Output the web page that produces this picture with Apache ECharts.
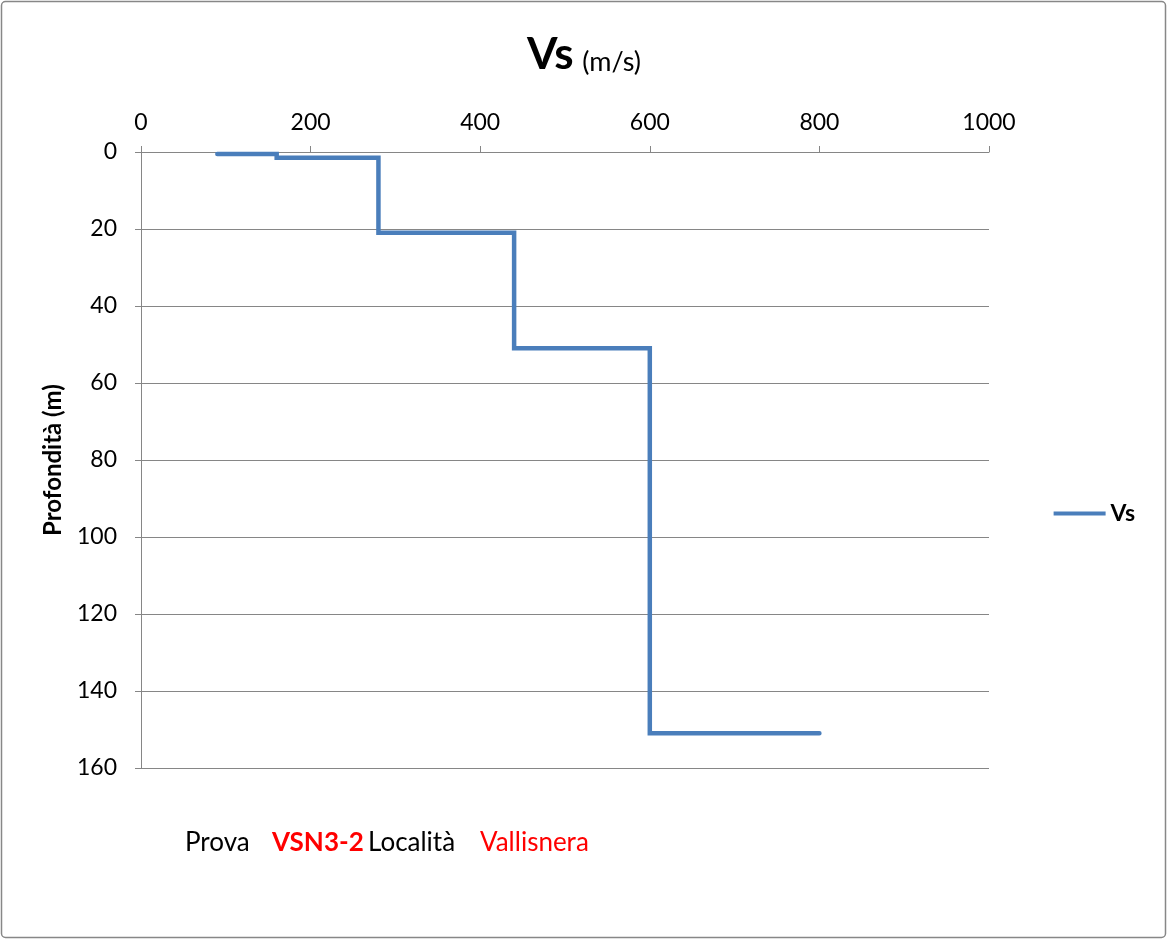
<!DOCTYPE html>
<html>
<head>
<meta charset="utf-8">
<script src="https://cdn.jsdelivr.net/npm/echarts@6/dist/echarts.min.js"></script>
<style>
html,body{margin:0;padding:0;background:#fff;}
#chart{width:1168px;height:940px;}
</style>
</head>
<body>
<div id="chart"></div>
<script>
// Polyline vertices of the Vs profile (velocity m/s, depth m)
const vsValues = [90, 160, 160, 280, 280, 440, 440, 600, 600, 800];
const depthValues = [0.5, 0.5, 1.5, 1.5, 21, 21, 51, 51, 151, 151];
const xTicks = [0, 200, 400, 600, 800, 1000];
const yTicks = [0, 20, 40, 60, 80, 100, 120, 140, 160];
const seriesName = 'Vs';
const testId = 'VSN3-2';
const siteName = 'Vallisnera';

const FONT = 'Lato, "Open Sans", sans-serif';
const chart = echarts.init(document.getElementById('chart'));
const points = vsValues.map((v, i) => [v, depthValues[i]]);

chart.setOption({
  animation: false,
  backgroundColor: '#fff',
  textStyle: { fontFamily: FONT },
  title: [{
    text: '{a|Vs}  {b|(m/s)}',
    left: 'center',
    top: 28,
    textStyle: {
      rich: {
        a: { fontSize: 44, fontWeight: 'bold', color: '#000', fontFamily: FONT },
        b: { fontSize: 27, fontWeight: 'normal', color: '#000', fontFamily: FONT, padding: [14, 0, 0, 0] }
      }
    }
  }],
  legend: {
    right: 28,
    top: 497,
    orient: 'vertical',
    itemWidth: 52,
    itemHeight: 4,
    itemGap: 6,
    icon: 'rect',
    textStyle: { fontSize: 23, fontWeight: 'bold', color: '#000', fontFamily: FONT },
    data: [seriesName]
  },
  grid: { left: 141, top: 152, right: 179, bottom: 172, containLabel: false },
  xAxis: {
    type: 'value',
    position: 'top',
    min: 0, max: 1000, interval: 200,
    axisLine: { show: true, lineStyle: { color: '#868686', width: 1 } },
    axisTick: { show: true, inside: false, length: 6, lineStyle: { color: '#868686' } },
    axisLabel: { fontSize: 23, color: '#000', margin: 18, fontFamily: FONT, formatter: v => String(v) },
    splitLine: { show: false }
  },
  yAxis: {
    type: 'value',
    inverse: true,
    min: 0, max: 160, interval: 20,
    name: 'Profondità (m)',
    nameLocation: 'middle',
    nameGap: 76,
    nameRotate: 90,
    nameTextStyle: { fontSize: 24, fontWeight: 'bold', color: '#000', fontFamily: FONT },
    axisLine: { show: true, lineStyle: { color: '#868686', width: 1 } },
    axisTick: { show: true, length: 6, lineStyle: { color: '#868686' } },
    axisLabel: { fontSize: 23, color: '#000', margin: 24, fontFamily: FONT, formatter: v => String(v) },
    splitLine: { show: true, lineStyle: { color: '#868686', width: 1 } }
  },
  series: [{
    name: seriesName,
    type: 'line',
    data: points,
    showSymbol: false,
    symbol: 'none',
    lineStyle: { color: '#4a7ebb', width: 4.5, cap: 'round', join: 'miter' },
    itemStyle: { color: '#4a7ebb' }
  }],
  graphic: [{
    type: 'rect',
    shape: { x: 1.5, y: 1.5, width: 1164, height: 936, r: 4 },
    style: { fill: 'none', stroke: '#878787', lineWidth: 1.5 },
    silent: true
  }, {
    type: 'text', left: 185, top: 830,
    style: { text: 'Prova', font: '26px ' + FONT, fill: '#000' }
  }, {
    type: 'text', left: 272, top: 830,
    style: { text: testId, font: 'bold 26px ' + FONT, fill: '#ff0000' }
  }, {
    type: 'text', left: 368, top: 830,
    style: { text: 'Località', font: '26px ' + FONT, fill: '#000' }
  }, {
    type: 'text', left: 480, top: 830,
    style: { text: siteName, font: '26px ' + FONT, fill: '#ff0000' }
  }]
});
</script>
</body>
</html>
